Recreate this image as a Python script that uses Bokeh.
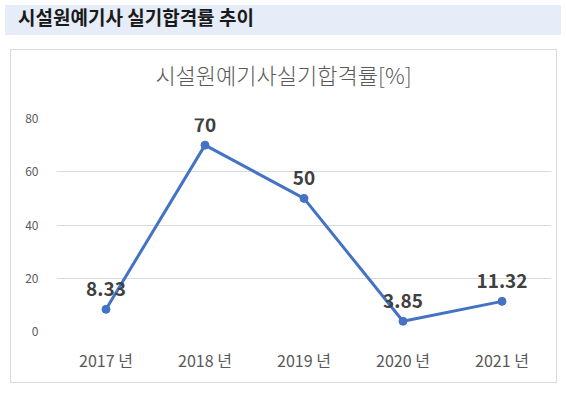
from bokeh.plotting import figure
from bokeh.models import ColumnDataSource, LabelSet, FactorRange, Range1d, Div, Spacer
from bokeh.layouts import column, row
from bokeh.core.properties import value
from bokeh.embed import file_html
from bokeh.resources import INLINE

header_text = "시설원예기사 실기합격률 추이"
chart_title = "시설원예기사실기합격률[%]"
years = ["2017 년", "2018 년", "2019 년", "2020 년", "2021 년"]
rates = [8.33, 70, 50, 3.85, 11.32]
rate_labels = ["8.33", "70", "50", "3.85", "11.32"]
y_ticks = [0, 20, 40, 60, 80]

FONT = "Noto Sans CJK KR"
BORDER = "1px solid #D9D9D9"

src = ColumnDataSource(dict(year=years, rate=rates, label=rate_labels))

p = figure(width=547, height=284,
           x_range=FactorRange(factors=years, range_padding=0),
           y_range=Range1d(0, 80),
           output_backend="svg", toolbar_location=None,
           min_border_left=45, min_border_right=7,
           min_border_top=19, min_border_bottom=52,
           styles={"border-left": BORDER, "border-right": BORDER,
                   "border-bottom": BORDER, "box-sizing": "border-box"})

p.outline_line_color = None
p.xgrid.grid_line_color = None
p.ygrid.grid_line_color = "#D9D9D9"
p.ygrid.grid_line_width = 1

p.yaxis.ticker = y_ticks
for ax in (p.xaxis, p.yaxis):
    ax.axis_line_color = None
    ax.major_tick_line_color = None
    ax.minor_tick_line_color = None
    ax.major_label_text_color = "#595959"
    ax.major_label_text_font = FONT
p.yaxis.major_label_text_font_size = "12px"
p.yaxis.major_label_standoff = 12
p.xaxis.major_label_text_font_size = "16px"
p.xaxis.major_label_standoff = 10

p.line(x="year", y="rate", source=src, line_color="#4472C4", line_width=3)
p.scatter(x="year", y="rate", source=src, size=8, fill_color="#4472C4", line_color="#4472C4")

labels = LabelSet(x="year", y="rate", text="label", source=src, y_offset=20,
                  text_align="center", text_baseline="middle",
                  text_font=value(FONT), text_font_size="19px",
                  text_font_style="bold", text_color="#404040")
p.add_layout(labels)

title_div = Div(text=chart_title, width=547, height=50, margin=0,
                styles={"border-top": BORDER, "border-left": BORDER,
                        "border-right": BORDER, "box-sizing": "border-box",
                        "font-size": "22px", "font-family": FONT,
                        "font-weight": "300", "color": "#595959",
                        "text-align": "center", "line-height": "48px",
                        "background-color": "white"})

header = Div(text=header_text, width=556, height=30,
             styles={"background-color": "#E6ECF8", "font-size": "19px",
                     "font-weight": "bold", "font-family": FONT,
                     "color": "#1A1A1A", "padding-left": "13px",
                     "line-height": "24px", "box-sizing": "border-box"})

chart_box = column(title_div, p)
layout = column(header, Spacer(height=9), row(Spacer(width=10), chart_box))

open("out.html", "w").write(file_html(layout, INLINE))
